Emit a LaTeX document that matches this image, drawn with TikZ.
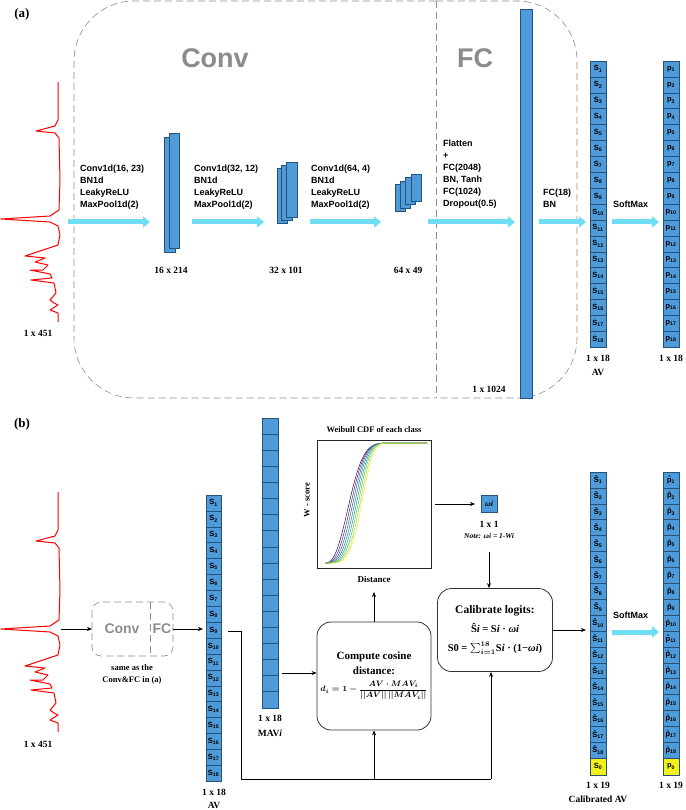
\documentclass[tikz,border=0pt]{standalone}
\usepackage{fontspec}
\setmainfont{Liberation Serif}
\newfontfamily\sansf{Liberation Sans}
\usetikzlibrary{arrows.meta}
\definecolor{cellblue}{HTML}{4F9BD9}
\definecolor{celledge}{HTML}{24527A}
\definecolor{fatcyan}{HTML}{6FDDF2}
\definecolor{cellyellow}{HTML}{F2F21A}
\definecolor{boxgray}{HTML}{8C8C8C}
\tikzset{
  x=1pt,y=-1pt,
  fat/.style={draw=fatcyan,line width=5pt,-{Triangle[length=7pt,width=11pt]}},
  thin/.style={draw=black,line width=0.7pt,-{Stealth[length=5pt,width=4pt]}},
  cell/.style={draw=celledge,fill=cellblue,line width=0.5pt},
  ycell/.style={draw=celledge,fill=cellyellow,line width=0.5pt},
  sl/.style={font=\sansf\bfseries\fontsize{9}{12}\selectfont,align=left,anchor=north west,inner sep=0pt},
  dim/.style={font=\bfseries\fontsize{9.5}{11}\selectfont,align=center,inner sep=0pt},
  big/.style={font=\sansf\bfseries\fontsize{27}{30}\selectfont,text=boxgray},
  cl/.style={font=\sansf\bfseries\fontsize{7.5}{8}\selectfont,inner sep=0pt},
  gdash/.style={draw=boxgray,line width=0.6pt,dash pattern=on 7pt off 4pt},
  rbox/.style={draw=black!80,line width=0.8pt,rounded corners=14pt},
  spec/.style={draw=red,line width=1pt,line join=round},
}
\newcommand{\spectrumat}[1]{%
\draw[spec,shift={(0,#1)}] (58,82)--(58,120)--(55,126)--(36,131)--(55,133)--(59,138)--(60,180)--(59,210)--(50,216)--(1,219)--(50,222)--(58,226)--(60,235)--(58,245)--(52,247)--(25,256)--(45,258)--(35,262)--(48,265)--(43,270)--(30,270)--(50,274)--(52,278)--(31,280)--(54,283)--(56,293)--(50,300)--(54,303)--(58,305)--(50,310)--(58,313)--(58,322);}
\begin{document}
\begin{tikzpicture}
\useasboundingbox (0,0) rectangle (685,810);
\fill[white] (0,0) rectangle (685,810);
% ================= (a)
\node[font=\bfseries\fontsize{13}{14}\selectfont] (la) at (22,14) {(a)};
\draw[gdash,rounded corners=60pt] (436,1) -- (74,1) -- (74,398) -- (436,398);
\draw[gdash,rounded corners=60pt] (436,1) -- (577,1) -- (577,398) -- (436,398);
\draw[gdash] (436,1) -- (436,398);
\node[big] (conv) at (215,58) {Conv};
\node[big] (fc) at (475,58) {FC};
\spectrumat{0}
\node[dim] (in) at (38,333) {1 x 451};
% block 1
\draw[cell] (164,137) rectangle (175,252);
\draw[cell] (169,133) rectangle (179,248);
% block 2
\draw[cell] (277,168) rectangle (287,223);
\draw[cell] (281,165) rectangle (292,220);
\draw[cell] (286,162) rectangle (297,217);
% block 3
\draw[cell] (395,184) rectangle (405,211);
\draw[cell] (400,181) rectangle (410,208);
\draw[cell] (405,177) rectangle (415,204);
\draw[cell] (411,174) rectangle (421,201);
\draw[cell] (520,9) rectangle (532,398);
\node[dim] at (171,270) {16 x 214};
\node[dim] at (286,270) {32 x 101};
\node[dim] at (408,270) {64 x 49};
\node[dim] at (489,389) {1 x 1024};
\node[sl] at (80,165) {Conv1d(16, 23)\\BN1d\\LeakyReLU\\MaxPool1d(2)};
\node[sl] at (194,165) {Conv1d(32, 12)\\BN1d\\LeakyReLU\\MaxPool1d(2)};
\node[sl] at (311,165) {Conv1d(64, 4)\\BN1d\\LeakyReLU\\MaxPool1d(2)};
\node[sl] at (443,140) {Flatten\\+\\FC(2048)\\BN, Tanh\\FC(1024)\\Dropout(0.5)};
\node[sl] at (543,189) {FC(18)\\BN};
\node[sl] at (613,201) {SoftMax};
% AV and p columns (a)
\foreach \i in {1,...,18}{
  \draw[cell] (590,{61+(\i-1)*15.9}) rectangle (606,{61+\i*15.9});
  \node[cl] at (598,{61+(\i-0.5)*15.9}) {S\textsubscript{\i}};
  \draw[cell] (663,{61+(\i-1)*15.9}) rectangle (679,{61+\i*15.9});
  \node[cl] at (671,{61+(\i-0.5)*15.9}) {p\textsubscript{\i}};
}
\node[dim] at (598,358) {1 x 18};
\node[dim] at (598,372) {AV};
\node[dim] at (671,358) {1 x 18};
\draw[fat] (68,222) -- (150,222);
\draw[fat] (192,222) -- (264,222);
\draw[fat] (310,222) -- (381,222);
\draw[fat] (428,222) -- (515,222);
\draw[fat] (539,222) -- (586,222);
\draw[fat] (612,222) -- (659,222);
% ================= (b)
\node[font=\bfseries\fontsize{13}{14}\selectfont] (lb) at (22,424) {(b)};
\spectrumat{410}
\node[dim] at (38,744) {1 x 451};
\draw[gdash,rounded corners=9pt] (92,602) rectangle (173,656);
\draw[gdash] (150,602) -- (150,656);
\node[font=\sansf\bfseries\fontsize{14}{16}\selectfont,text=boxgray] (sconv) at (122,629) {Conv};
\node[font=\sansf\bfseries\fontsize{14}{16}\selectfont,text=boxgray] (sfc) at (162,629) {FC};
\node[dim,font=\bfseries\fontsize{8.5}{12}\selectfont] at (132,674) {same as the\\Conv\&FC in (a)};
\coordinate (sbox) at (92,629);
\coordinate (sboxr) at (173,629);
\draw[thin] (61,629) -- (sbox);
\foreach \i in {1,...,18}{
  \draw[cell] (206,{495+(\i-1)*15.9}) rectangle (221,{495+\i*15.9});
  \node[cl] at (213.5,{495+(\i-0.5)*15.9}) {S\textsubscript{\i}};
  \draw[cell] (262,{418+(\i-1)*16.1}) rectangle (278,{418+\i*16.1});
}
\draw[thin] (sboxr) -- (203,629);
\node[dim] at (214,792) {1 x 18};
\node[dim] at (214,805) {AV};
\node[dim] at (270,718) {1 x 18};
\node[dim] at (270,733) {MAV\textit{i}};
% weibull
\node[font=\bfseries\fontsize{8.5}{10}\selectfont] at (374,430) {Weibull CDF of each class};
\draw[line width=1pt,draw=black!85] (317,440) rectangle (431,568);
\node[font=\bfseries\fontsize{8.5}{10}\selectfont,rotate=90] at (307,500) {W - score};
\foreach \c/\L/\k in {440154/28/2.5,46327E/29.7/2.8,365C8D/31.4/3.1,277F8E/33.1/3.4,1FA187/34.8/3.7,4AC16D/36.5/4.0,A0DA39/38.2/4.3,FDE725/39.9/4.6}{
  \definecolor{cc}{HTML}{\c}
  \draw[cc,line width=0.5pt] plot[domain=0.01:102,samples=80] ({325+\x},{563-120*(1-exp(-((\x/\L)^\k)))});
}
\node[font=\bfseries\fontsize{9}{10}\selectfont] (dist) at (374,579) {Distance};
% compute box
\node[rbox,minimum width=114pt,minimum height=108pt,align=center,font=\bfseries\fontsize{11}{15}\selectfont] (comp) at (374,676) {Compute cosine\\distance:\\[2pt]{\boldmath\fontsize{8.5}{10}\selectfont$\displaystyle d_i=1-\frac{AV\cdot MAV_i}{||AV||\,||MAV_i||}$}};
\node[rbox,minimum width=115pt,minimum height=83pt,align=center,font=\bfseries\fontsize{11.5}{19}\selectfont] (cal) at (495,630) {Calibrate logits:\\{\fontsize{10.5}{10}\selectfont Ŝ\textit{i} = S\textit{i} · \textit{ωi}}\\{\fontsize{10.5}{10}\selectfont S0 = {\boldmath$\sum_{i=1}^{18}$}S\textit{i} · (1−\textit{ωi})}};
\draw[cell] (481,495) rectangle (497,512);
\node[font=\bfseries\itshape\fontsize{8}{9}\selectfont] (w) at (489,503.5) {ωi};
\node[dim] at (489,524) {1 x 1};
\node[font=\bfseries\itshape\fontsize{7.5}{9}\selectfont] (note) at (489,536) {Note: ωi\/ = 1-Wi};
\draw[thin] (435,504) -- (475,504);
\draw[thin] (489,552) -- (489,552 |- cal.north);
\draw[thin] (comp.north) -- (374,592);
\draw[thin] (282,673) -- (282,673 -| comp.west);
\draw[line width=0.7pt] (228,631) -- (241,631) -- (241,779) -- (491,779);
\draw[thin] (374,779) -- (comp.south);
\draw[thin] (491,779) -- (491,779 |- cal.south);
\draw[thin] (cal.east) -- (586,630);
% calibrated AV, p
\foreach \i in {1,...,18}{
  \draw[cell] (590,{472+(\i-1)*15.9}) rectangle (606,{472+\i*15.9});
  \node[cl] at (598,{472+(\i-0.5)*15.9}) {Ŝ\textsubscript{\i}};
  \draw[cell] (663,{472+(\i-1)*15.9}) rectangle (679,{472+\i*15.9});
  \node[cl] at (671,{472+(\i-0.5)*15.9}) {\^{p}\textsubscript{\i}};
}
\draw[ycell] (590,758.2) rectangle (606,775);
\node[cl] at (598,766.6) {S\textsubscript{0}};
\draw[ycell] (663,758.2) rectangle (679,775);
\node[cl] at (671,766.6) {p\textsubscript{0}};
\node[sl] at (613,612) {SoftMax};
\draw[fat] (612,632) -- (659,632);
\node[dim] at (598,785) {1 x 19};
\node[dim] at (598,799) {Calibrated AV};
\node[dim] at (671,785) {1 x 19};
\end{tikzpicture}
\end{document}
